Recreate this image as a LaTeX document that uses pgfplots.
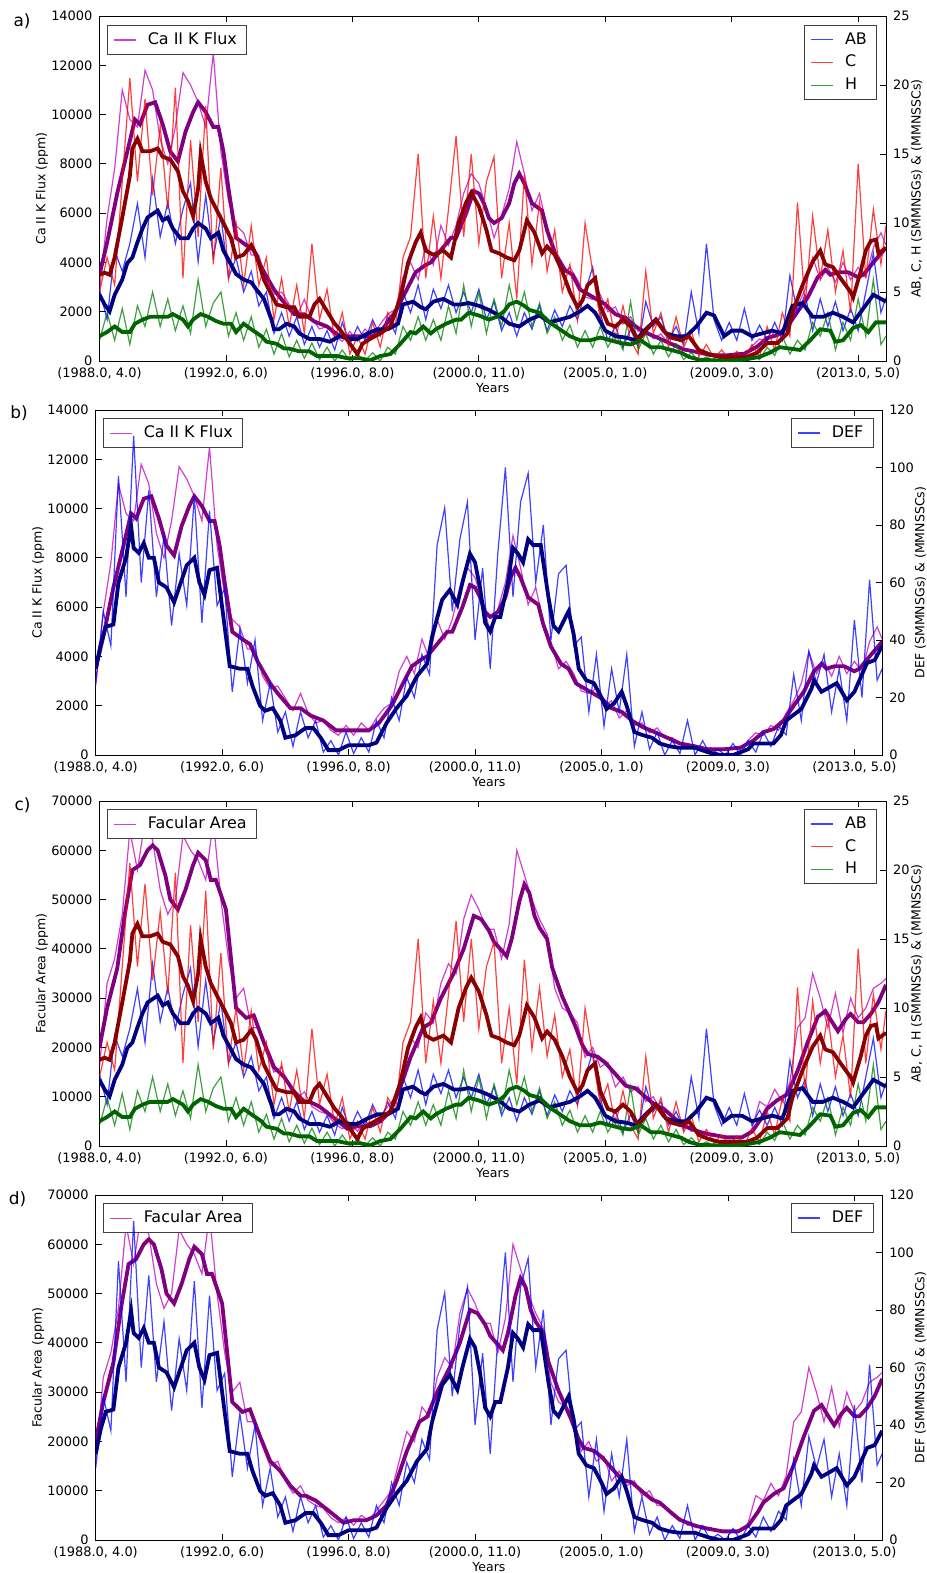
\documentclass[border=0pt]{standalone}
\usepackage{pgfplots}
\pgfplotsset{compat=1.18}
\usepackage{pgfplotstable}
\usepackage{fontspec}
\setmainfont{DejaVu Sans}

\definecolor{mthin}{HTML}{BF00BF}
\definecolor{mthick}{HTML}{800080}
\definecolor{bthin}{HTML}{0000FF}
\definecolor{bthick}{HTML}{000080}
\definecolor{rthin}{HTML}{FF0000}
\definecolor{rthick}{HTML}{8B0000}
\definecolor{gthin}{HTML}{008000}
\definecolor{gthick}{HTML}{006400}

\pgfplotstableread{
x cak fac ab c h def
0 2800 16000 5.2 5.0 1.5 25
3 5800 33000 3.0 7.5 3.5 50
6 7800 38000 8.0 5.5 1.5 38
9 11000 47000 6.5 13.0 3.8 97
12 9800 64000 8.5 20.5 1.2 55
15 9500 56000 11.4 13.0 4.0 111
18 11800 66000 7.5 19.0 2.5 60
21 11000 62000 13.2 12.0 5.0 92
24 9000 52000 9.0 17.0 2.5 55
27 8000 47000 11.5 11.0 4.5 76
30 9500 50000 8.5 19.8 2.2 45
33 11700 63000 11.0 6.0 4.0 70
36 11200 60000 12.9 16.0 2.0 52
39 10500 58000 7.2 9.0 5.9 90
42 9500 54000 12.0 18.5 2.5 46
45 12500 66000 7.5 7.0 4.2 85
48 8500 50000 10.5 14.0 5.0 52
51 6500 38000 6.0 6.0 1.8 58
54 5500 30000 7.5 10.0 3.5 22
57 5200 32000 5.0 5.5 1.5 44
60 4300 24000 6.5 9.8 3.2 25
63 4300 24000 4.0 5.5 1.0 40
66 3200 19000 5.0 7.5 2.3 12
69 2700 15000 2.0 3.0 0.5 25
72 2800 16000 3.5 6.0 2.0 8
75 2300 12000 1.8 2.5 0.3 15
78 1800 9500 3.2 5.5 1.5 3
81 2500 11000 1.2 2.0 0.2 15
84 1700 8000 2.5 8.5 1.3 6
87 1300 7000 1.0 3.0 0.1 12
90 1400 6500 2.2 5.2 1.0 1
93 1000 4500 0.8 1.5 0.0 5
96 800 3500 2.8 3.5 0.8 0
99 1200 4500 1.2 0.5 0.0 8
102 800 3000 2.5 1.8 0.5 0.5
105 1300 5000 1.5 0.5 0.0 6
108 1000 4000 3.0 2.8 0.6 1
111 1500 6000 1.8 1.0 0.0 12
114 1900 8000 3.2 3.5 1.0 6
117 2100 10000 2.0 2.5 0.5 20
120 3400 16000 5.0 7.5 2.5 12
123 4000 22000 3.5 9.0 1.5 27
126 3300 20000 5.5 15.0 3.2 20
129 4700 27000 3.0 6.0 1.5 35
132 3900 25000 5.2 10.5 3.0 28
135 5500 33000 3.8 6.0 1.5 73
138 4700 37000 5.5 11.0 4.0 86
141 5500 35000 3.5 16.3 2.0 50
144 6800 46000 5.0 9.0 5.5 75
147 7600 51000 3.5 15.0 2.5 88
150 7200 48000 5.2 8.5 5.0 40
153 6200 44000 3.0 13.0 2.0 65
156 5000 44000 4.3 14.8 4.5 30
159 5900 38000 2.2 6.0 2.5 70
162 7000 45000 3.5 10.0 5.5 100
165 8900 60000 1.8 4.5 3.0 55
168 7600 55000 3.5 13.5 5.0 88
171 6100 50000 2.3 7.0 2.5 98
174 6800 46000 4.0 11.5 4.2 60
177 5400 43000 2.2 6.5 2.0 80
180 4600 32000 3.7 9.5 3.2 40
183 3500 28000 2.5 5.0 1.5 63
186 3800 27000 4.0 7.0 2.6 66
189 3300 25000 3.0 3.0 1.0 38
192 2600 18000 5.0 10.0 2.2 41
195 2500 20000 6.8 6.5 1.0 15
198 2700 16000 3.5 3.0 2.5 35
201 2000 17000 1.5 4.5 1.0 10
204 2200 12000 2.5 1.5 2.0 30
207 1500 14000 1.0 4.0 0.8 15
210 1800 11000 2.3 1.5 4.3 35
213 1200 12000 1.0 0.5 0.8 3
216 1300 9000 4.3 6.5 2.0 15
219 900 10000 2.5 2.0 0.5 2
222 1100 7000 3.2 3.5 1.5 8
225 700 7000 1.5 1.0 0.3 0
228 700 5000 2.5 3.2 1.2 5
231 500 4500 1.2 1.0 0.1 0.5
234 350 3000 5.0 2.2 0.6 12
237 400 3200 2.0 0.3 0.0 0
240 250 2200 8.5 1.2 0.3 5
243 300 2600 3.0 0.2 0.0 0
246 200 1700 1.5 0.8 0.2 2
249 200 1500 2.8 0.1 0.0 0
252 300 2000 1.5 0.7 0.2 4
255 200 1800 3.8 0.1 0.0 0
258 600 3500 1.5 1.2 0.4 5
261 900 9000 2.6 0.3 0.1 1
264 800 8000 1.5 2.5 1.0 8
267 1200 11500 2.8 0.8 0.4 3
270 1000 9000 1.5 3.5 1.8 10
273 1700 13000 6.2 1.8 0.5 7
276 2200 24000 3.5 11.5 1.5 28
279 2900 26000 4.8 4.0 0.8 12
282 4200 35000 2.2 10.5 2.8 36
285 3300 30000 4.5 6.0 1.8 25
288 3800 24000 2.5 9.5 3.5 35
291 3200 31000 4.3 5.0 0.8 15
294 4000 23000 2.2 8.0 2.8 30
297 3300 30000 3.8 3.5 1.5 12
300 3800 26000 2.2 14.3 4.5 47
303 3400 28000 5.0 6.0 1.8 20
306 4600 32000 7.8 11.0 5.9 61
309 5200 33000 3.5 7.0 1.2 26
311 4700 34000 4.6 9.8 1.8 30
}\thin

\pgfplotstableread{
x y
0 3500
3 4800
7 6800
11 8500
14 9800
16 9600
19 10400
22 10500
25 9600
28 8500
31 8100
34 9300
37 10100
39 10500
42 10100
45 9500
47 9500
49 8500
51 7000
54 5000
58 4700
61 4500
64 3800
69 2900
72 2500
77 1900
81 1900
85 1600
90 1400
95 1000
100 1000
105 1000
108 1000
112 1300
117 2000
121 2800
125 3600
129 3900
131 4000
135 4500
139 5000
141 5000
145 6000
148 6900
150 6800
152 6400
154 5800
156 5600
159 5800
162 6400
164 7200
166 7600
168 7200
171 6400
175 6100
177 5300
180 4400
184 3700
187 3500
190 2900
195 2600
200 2300
204 1900
208 1750
212 1400
216 1150
221 930
226 700
231 470
237 350
242 230
248 230
255 300
260 580
264 930
268 1050
272 1400
276 2000
280 2570
284 3400
287 3700
289 3500
292 3600
296 3600
300 3400
302 3500
306 4000
311 4600
}\cakS

\pgfplotstableread{
x y
0 20000
3 28000
7 36000
10 47000
13 56000
16 57000
19 60000
21 61000
23 60000
26 55000
28 50000
31 48000
34 52000
37 57000
39 59500
42 58000
44 54000
46 54000
50 48000
52 38000
54 28000
58 26000
61 26500
65 21000
69 16000
73 14000
77 11000
81 9000
83 9000
87 8000
92 6000
98 3500
102 4000
107 4000
111 5000
115 7000
119 12000
123 18000
128 24000
131 25000
135 30000
140 35000
144 40000
148 46700
151 46000
154 43700
156 41400
159 39700
161 38500
163 42000
166 49600
168 53100
170 51300
172 46700
174 44300
177 42000
179 36200
183 30300
185 28000
188 24500
191 20400
193 18700
197 18100
200 16900
204 14600
208 12250
212 11700
216 9900
220 8200
223 7600
227 5800
231 4100
237 2900
242 2300
248 1750
254 1750
258 2900
262 5800
264 7600
268 9300
272 10500
276 15200
280 21000
284 26200
287 27400
289 25700
292 23300
295 25700
297 26800
300 25100
302 25100
305 26800
308 29200
311 32700
}\facS

\pgfplotstableread{
x y
0 4.8
2 4.1
4 3.6
6 4.8
9 5.9
11 7.1
13 7.5
15 8.6
17 9.6
19 10.4
23 10.9
25 10.2
27 10.4
29 9.6
32 8.9
35 8.9
37 9.6
39 10
42 9.6
44 8.9
47 9.3
49 8
52 7
54 6.3
57 5.9
60 5.7
62 5.2
65 4.5
68 3
69 2.3
71 2.3
74 2.7
77 2.5
79 2
83 1.6
87 1.6
91 1.4
95 1.8
99 1.6
102 1.6
106 2
110 2.3
114 2.3
118 2.7
120 4.1
124 4.3
127 3.9
129 3.75
132 4.3
136 4.5
140 4.1
143 4.1
146 4.2
150 4
154 3.7
158 3.3
162 2.7
166 2.5
170 3
174 3.3
178 2.8
182 3
186 3.2
190 3.6
193 4
196 3.5
200 2.2
204 1.8
208 1.7
212 1.5
216 2.3
220 3
224 2
228 1.8
232 1.8
236 2.5
240 3.5
243 3.3
247 1.8
250 2.2
254 2.2
258 1.8
262 2
266 2.2
270 2
274 4
278 4.2
282 3.2
286 3.2
290 3.5
294 3.2
298 2.8
302 3.8
306 4.8
308 4.6
311 4.3
}\abS

\pgfplotstableread{
x y
0 6.25
2 6.4
4 6.25
6 7.5
9 10.4
12 13.4
13 15.4
15 16.1
17 15.2
20 15.2
23 15.4
25 14.8
28 14.6
31 13.75
33 12.3
35 11.6
37 10.5
39 12.5
40 15
42 13
44 11.8
47 10.7
49 10
52 8.9
54 7.5
57 7.7
60 8.4
62 7.7
65 5.9
68 4.8
70 4.1
74 3.9
77 3.9
79 3.2
83 3.2
85 4.1
87 4.5
90 3.6
93 2.7
95 2.3
99 1.25
102 0.5
104 1.25
107 1.6
111 2
115 2.5
119 4.6
122 7.1
125 8.6
127 9.3
129 8
132 7.7
136 8
139 7.5
142 10
145 11.5
147 12.2
150 11.2
153 9.5
155 8
158 7.8
161 7.5
164 7.3
166 8
169 10.2
172 9.3
175 7.8
177 8.3
180 7.7
183 6.5
186 5
189 3.9
191 4.4
193 5.5
196 6
198 4
201 2.7
204 2.5
207 3
210 2.5
213 1.5
216 2.2
220 3
223 2.2
226 1.7
230 1.5
233 1.8
237 0.8
241 0.5
245 0.3
250 0.3
256 0.3
260 0.6
264 1.3
268 1.3
272 2
274 3.5
278 5.5
282 7.2
285 8
287 7
290 6.8
293 6
297 5
298 4.6
301 6.5
303 8
305 8.7
307 8.8
308 7.8
311 8.2
}\cS

\pgfplotstableread{
x y
0 1.8
3 2.1
6 2.5
9 2.1
12 2.1
14 2.7
17 3
20 3.2
23 3.2
27 3.2
29 3.4
33 3
35 2.5
37 3
40 3.4
43 3.2
46 2.9
49 2.7
52 2.7
54 2.1
57 2.7
60 2.3
64 1.8
66 1.4
70 1.25
73 0.9
75 0.9
79 0.7
83 0.7
86 0.36
90 0.36
94 0.36
98 0.2
103 0.2
107 0.05
111 0.36
115 0.5
119 1.25
123 2.1
125 2
128 2.5
131 2
133 2.3
137 2.7
141 3
143 3
146 3.5
150 3.3
154 3
157 3.2
160 3.6
162 4.1
165 4.3
168 4
170 3.7
174 3.5
178 2.8
182 2.3
186 1.8
190 1.5
194 1.5
198 1.7
202 1.5
206 1.3
210 1.2
214 1.5
218 1
222 1
226 0.8
230 0.6
233 0.3
237 0.1
243 0.05
248 0.02
255 0.1
261 0.3
265 0.6
269 1
273 0.9
277 0.8
281 1.5
285 2.3
289 2.2
291 1.4
294 1.5
298 2.4
301 2.6
304 2.1
307 2.8
311 2.8
}\hS

\pgfplotstableread{
x y
0 30
2 38.6
4 44.6
7 45.4
9 60
12 68.6
14 79.7
15 72
17 70.3
19 73.7
21 68.6
23 68.6
25 60
28 58.3
31 53.1
33 58.3
36 66
39 68.6
41 60
43 55.7
45 64.3
48 65.1
50 51.4
53 30.9
57 30
60 30
62 24
65 17.1
67 15.4
70 16.3
73 12
75 6
79 6.9
83 9.4
86 9.4
89 6
92 1.7
96 1.7
100 3.4
104 3.4
108 3.4
111 4.3
115 11.1
119 16.3
123 20.6
127 27.4
131 31.7
133 41.1
137 54
140 57.4
143 52.3
145 60
148 70
150 67
152 58
154 46
156 43
158 48
160 48
163 60
165 72
167 70
169 67
171 75
173 73
176 73
179 55
181 45
183 43
187 50
189 42
191 30
194 26
197 25
200 20
202 16
205 18
208 22
210 17
213 8
216 7
220 6
223 4
227 3
231 2.5
237 2.5
242 1
247 0
252 0
258 2
260 4
264 4
268 4
271 7
273 12
276 14
279 16
283 23
284 26
287 22
289 23
293 25
297 19
300 22
302 26
305 32
308 33
311 38
}\defS

\pgfplotsset{
  base/.style={
    scale only axis, width=393.25bp, height=172.5bp,
    xmin=0, xmax=311, ymin=0, no marks,
    scaled y ticks=false, scaled x ticks=false,
    tick align=inside, major tick length=3bp,
    tick style={black, line width=0.4bp},
    axis line style={line width=0.5bp},
    ticklabel style={font=\fontsize{6.5}{7.5}\selectfont},
    label style={font=\fontsize{6.3}{7.5}\selectfont},
    /pgf/number format/assume math mode=true,
    /pgf/number format/1000 sep={},
    legend cell align=left,
    legend image code/.code={\draw[##1, line width=0.6bp] (0bp,0bp) -- (11bp,0bp);},
    legend style={font=\fontsize{8}{9.6}\selectfont, draw=black!75,
      line width=0.5bp, inner xsep=3bp, inner ysep=1.5bp,
      /tikz/every odd column/.append style={column sep=3.7bp}},
  },
  leftax/.style={
    base, ytick pos=left,
    xtick={0,50,100,150,200,250,300},
    xticklabels={{(1988.0, 4.0)},{(1992.0, 6.0)},{(1996.0, 8.0)},{(2000.0, 11.0)},{(2005.0, 1.0)},{(2009.0, 3.0)},{(2013.0, 5.0)}},
    xlabel={Years},
    xlabel style={at={(axis description cs:0.5,-0.078)}, anchor=center},
    ylabel style={at={(axis description cs:-0.0731,0.5)}, anchor=center},
  },
  rightax/.style={
    base, axis x line=none, axis y line*=right, ytick pos=right,
  },
  thinl/.style={line width=0.6bp, draw opacity=0.75},
  thickl/.style={line width=1.9bp},
}

\begin{document}
\begin{tikzpicture}
\useasboundingbox (0,0) rectangle (463.5bp,-786.5bp);

% ---------------- panel a ----------------
\begin{axis}[leftax, at={(49.75bp,-180.5bp)}, anchor=south west,
  ymax=14000, ytick={0,2000,...,14000}, ylabel={Ca II K Flux (ppm)},
  legend style={at={(axis description cs:0.0092,0.974)}, anchor=north west}]
\addplot[thinl, mthin] table[x=x,y=cak]{\thin};
\addlegendentry{Ca II K Flux}
\addplot[thickl, mthick, forget plot] table[x=x,y=y]{\cakS};
\end{axis}
\begin{axis}[rightax, at={(49.75bp,-180.5bp)}, anchor=south west,
  ymax=25, ytick={0,5,...,25}, ylabel={AB, C, H (SMMNSGs) \& (MMNSSCs)},
  ylabel style={at={(axis description cs:1.039,0.5)}, anchor=center},
  legend style={at={(axis description cs:0.989,0.974)}, anchor=north east}]
\addplot[thinl, bthin] table[x=x,y=ab]{\thin};
\addlegendentry{AB}
\addplot[thinl, rthin] table[x=x,y=c]{\thin};
\addlegendentry{C}
\addplot[thinl, gthin] table[x=x,y=h]{\thin};
\addlegendentry{H}
\addplot[thickl, bthick, forget plot] table[x=x,y=y]{\abS};
\addplot[thickl, rthick, forget plot] table[x=x,y=y]{\cS};
\addplot[thickl, gthick, forget plot] table[x=x,y=y]{\hS};
\end{axis}

% ---------------- panel b ----------------
\begin{axis}[leftax, at={(47.85bp,-377.5bp)}, anchor=south west,
  ymax=14000, ytick={0,2000,...,14000}, ylabel={Ca II K Flux (ppm)},
  legend style={at={(axis description cs:0.0089,0.976)}, anchor=north west}]
\addplot[thinl, mthin] table[x=x,y=cak]{\thin};
\addlegendentry{Ca II K Flux}
\addplot[thickl, mthick, forget plot] table[x=x,y=y]{\cakS};
\end{axis}
\begin{axis}[rightax, at={(47.85bp,-377.5bp)}, anchor=south west,
  ymax=120, ytick={0,20,...,120}, ylabel={DEF (SMMNSGs) \& (MMNSSCs)},
  ylabel style={at={(axis description cs:1.0487,0.5)}, anchor=center},
  legend style={at={(axis description cs:0.9893,0.976)}, anchor=north east}]
\addplot[thinl, bthin] table[x=x,y=def]{\thin};
\addlegendentry{DEF}
\addplot[thickl, bthick, forget plot] table[x=x,y=y]{\defS};
\end{axis}

% ---------------- panel c ----------------
\begin{axis}[leftax, at={(49.75bp,-573bp)}, anchor=south west,
  ymax=70000, ytick={0,10000,...,70000}, ylabel={Facular Area (ppm)},
  legend style={at={(axis description cs:0.0092,0.976)}, anchor=north west}]
\addplot[thinl, mthin] table[x=x,y=fac]{\thin};
\addlegendentry{Facular Area}
\addplot[thickl, mthick, forget plot] table[x=x,y=y]{\facS};
\end{axis}
\begin{axis}[rightax, at={(49.75bp,-573bp)}, anchor=south west,
  ymax=25, ytick={0,5,...,25}, ylabel={AB, C, H (SMMNSGs) \& (MMNSSCs)},
  ylabel style={at={(axis description cs:1.039,0.5)}, anchor=center},
  legend style={at={(axis description cs:0.989,0.976)}, anchor=north east}]
\addplot[thinl, bthin] table[x=x,y=ab]{\thin};
\addlegendentry{AB}
\addplot[thinl, rthin] table[x=x,y=c]{\thin};
\addlegendentry{C}
\addplot[thinl, gthin] table[x=x,y=h]{\thin};
\addlegendentry{H}
\addplot[thickl, bthick, forget plot] table[x=x,y=y]{\abS};
\addplot[thickl, rthick, forget plot] table[x=x,y=y]{\cS};
\addplot[thickl, gthick, forget plot] table[x=x,y=y]{\hS};
\end{axis}

% ---------------- panel d ----------------
\begin{axis}[leftax, at={(47.85bp,-770bp)}, anchor=south west,
  ymax=70000, ytick={0,10000,...,70000}, ylabel={Facular Area (ppm)},
  legend style={at={(axis description cs:0.0089,0.976)}, anchor=north west}]
\addplot[thinl, mthin] table[x=x,y=fac]{\thin};
\addlegendentry{Facular Area}
\addplot[thickl, mthick, forget plot] table[x=x,y=y]{\facS};
\end{axis}
\begin{axis}[rightax, at={(47.85bp,-770bp)}, anchor=south west,
  ymax=120, ytick={0,20,...,120}, ylabel={DEF (SMMNSGs) \& (MMNSSCs)},
  ylabel style={at={(axis description cs:1.0487,0.5)}, anchor=center},
  legend style={at={(axis description cs:0.9893,0.976)}, anchor=north east}]
\addplot[thinl, bthin] table[x=x,y=def]{\thin};
\addlegendentry{DEF}
\addplot[thickl, bthick, forget plot] table[x=x,y=y]{\defS};
\end{axis}

\node[font=\fontsize{8.5}{10}\selectfont] at (11bp,-10.5bp) {a)};
\node[font=\fontsize{8.5}{10}\selectfont] at (9.5bp,-206.75bp) {b)};
\node[font=\fontsize{8.5}{10}\selectfont] at (11.25bp,-402.75bp) {c)};
\node[font=\fontsize{8.5}{10}\selectfont] at (8.75bp,-599.75bp) {d)};
\end{tikzpicture}
\end{document}
